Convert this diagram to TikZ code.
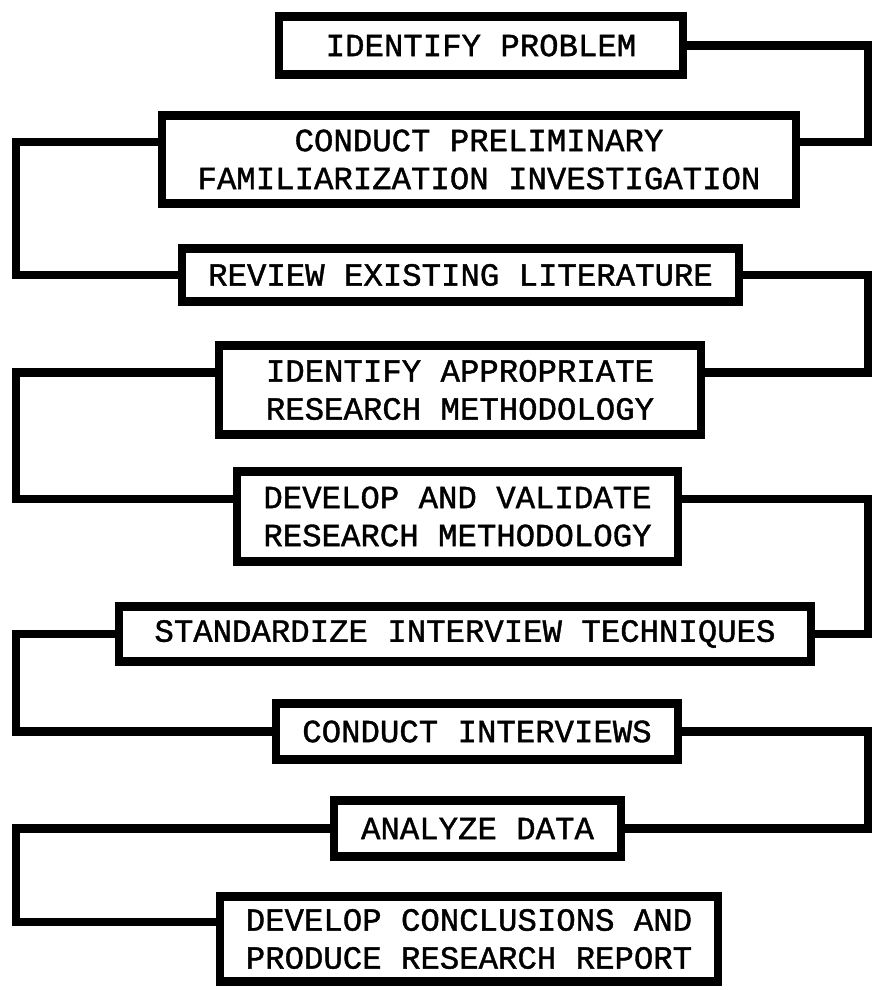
\documentclass[tikz,border=0pt]{standalone}
\usepackage{fontspec}
\setmonofont[FakeBold=1.2,AutoFakeBold=1.2]{Liberation Mono}
\usetikzlibrary{calc}

\begin{document}
\begin{tikzpicture}[x=0.025cm, y=-0.025cm,
	stage/.style={draw, line width=6pt, inner sep=0pt, align=center, font=\ttfamily\bfseries\fontsize{23}{27}\selectfont},
	link/.style={line width=6pt}]
	\useasboundingbox (0,0) rectangle (877,990);
	\node[stage, minimum width=10.1cm, minimum height=1.45cm] (prob) at (481,45.5) {IDENTIFY PROBLEM};
	\node[stage, minimum width=15.85cm, minimum height=2.2cm] (prelim) at (479,159.5) {CONDUCT PRELIMINARY\\FAMILIARIZATION INVESTIGATION};
	\node[stage, minimum width=13.93cm, minimum height=1.33cm] (review) at (460.5,275) {REVIEW EXISTING LITERATURE};
	\node[stage, minimum width=12.05cm, minimum height=2.23cm] (method) at (460,390) {IDENTIFY APPROPRIATE\\RESEARCH METHODOLOGY};
	\node[stage, minimum width=11.03cm, minimum height=2.25cm] (validate) at (457.5,516.5) {DEVELOP AND VALIDATE\\RESEARCH METHODOLOGY};
	\node[stage, minimum width=17.3cm, minimum height=1.38cm] (standard) at (465,634) {STANDARDIZE INTERVIEW TECHNIQUES};
	\node[stage, minimum width=10.05cm, minimum height=1.4cm] (interviews) at (477,731.5) {CONDUCT INTERVIEWS};
	\node[stage, minimum width=7.18cm, minimum height=1.4cm] (analyze) at (477.5,828.5) {ANALYZE DATA};
	\node[stage, minimum width=12.45cm, minimum height=2.13cm] (concl) at (469,939) {DEVELOP CONCLUSIONS AND\\PRODUCE RESEARCH REPORT};
	% side rails
	\coordinate (railL) at (16,0);
	\coordinate (railR) at (868,0);
	% where the links meet each box (two-line boxes a bit above the middle)
	\foreach \n/\f in {prob/0.5,prelim/0.32,review/0.5,method/0.32,validate/0.32,standard/0.5,interviews/0.5,analyze/0.5,concl/0.32}{
		\coordinate (\n-w) at ($(\n.north west)!\f!(\n.south west)$);
		\coordinate (\n-e) at ($(\n.north east)!\f!(\n.south east)$);}
	\foreach \a/\b in {prob/prelim,review/method,validate/standard,interviews/analyze}
		\draw[link] (\a-e) -- (\a-e -| railR) |- (\b-e);
	\foreach \a/\b in {prelim/review,method/validate,standard/interviews,analyze/concl}
		\draw[link] (\a-w) -- (\a-w -| railL) |- (\b-w);
\end{tikzpicture}
\end{document}
